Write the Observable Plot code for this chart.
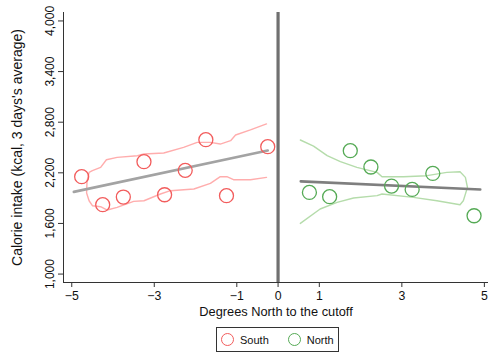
<!DOCTYPE html>
<html>
<head>
<meta charset="utf-8">
<script src="https://cdn.jsdelivr.net/npm/d3@7"></script>
<script src="https://cdn.jsdelivr.net/npm/@observablehq/plot@0.6"></script>
<style>
  body { margin: 0; background: #fff; font-family: "Liberation Sans", Arial, sans-serif; }
  #wrap { position: relative; width: 488px; height: 358px; }
  #legend { position: absolute; left: 216px; top: 327px; width: 121px; height: 23px; border: 1px solid #333;
    font-size: 11px; color: #111; display: flex; align-items: center; }
  .item { display: flex; align-items: center; }
  .sw { display: inline-block; width: 11px; height: 11px; border-radius: 50%; border: 1.3px solid; margin-right: 6px; }
</style>
</head>
<body>
<div id="wrap"><div id="chart"></div>
<div id="legend">
  <span class="item" style="margin-left:4px"><span class="sw" style="border-color:#f25c5c"></span>South</span>
  <span class="item" style="margin-left:19px"><span class="sw" style="border-color:#55aa55"></span>North</span>
</div></div>
<script>
// ---- data ----
const xTicks = [-5, -3, -1, 0, 1, 3, 5];
const yTicks = [1000, 1600, 2200, 2800, 3400, 4000];
const xDomain = [-5.2, 5.1];
const yDomain = [900, 4100];
const cutoff = [0];
const xLabel = "Degrees North to the cutoff";
const yLabel = "Calorie intake (kcal, 3 days's average)";

const southX = [-4.76, -4.25, -3.75, -3.25, -2.75, -2.25, -1.75, -1.25, -0.25];
const southY = [2154, 1822, 1913, 2332, 1940, 2229, 2593, 1929, 2510];
const northX = [0.76, 1.25, 1.75, 2.25, 2.75, 3.25, 3.75, 4.75];
const northY = [1968, 1917, 2462, 2269, 2043, 2003, 2193, 1691];

const southFitX = [-4.95, -0.25];
const southFitY = [1974, 2465];
const northFitX = [0.55, 4.9];
const northFitY = [2098, 2003];

// confidence band outlines (traced as one path)
const southBandX = [-0.28, -0.67, -1.08, -1.24, -1.40, -1.64, -2.04, -2.61, -2.85, -3.25, -3.50, -3.90, -4.14, -4.30, -4.50,
  -4.58, -4.64, -4.63, -4.58, -4.50, -4.30, -4.16, -3.90, -3.41, -3.25, -2.77, -2.29, -1.96, -1.64, -1.40, -1.15, -1.03, -0.67, -0.28];
const southBandY = [2146, 2118, 2118, 2154, 2154, 2074, 2008, 1988, 1949, 1869, 1861, 1790, 1759, 1798, 1810,
  1869, 1960, 2100, 2205, 2225, 2264, 2355, 2383, 2403, 2423, 2435, 2502, 2561, 2561, 2541, 2581, 2648, 2708, 2779];
const northBandX = [0.54, 0.86, 1.19, 1.51, 1.91, 2.40, 2.52, 3.04, 3.61, 4.09, 4.41, 4.54, 4.59,
  4.49, 4.41, 3.85, 3.28, 2.52, 2.40, 1.83, 1.43, 1.02, 0.54];
const northBandY = [2589, 2517, 2403, 2332, 2264, 2205, 2154, 2154, 2166, 2205, 2213, 2146, 2027,
  1869, 1822, 1869, 1909, 1949, 1929, 1901, 1849, 1771, 1600];

const zip = (xs, ys) => xs.map((x, i) => ({x, y: ys[i]}));
const south = zip(southX, southY), north = zip(northX, northY);
const southFit = zip(southFitX, southFitY), northFit = zip(northFitX, northFitY);
const southBand = zip(southBandX, southBandY), northBand = zip(northBandX, northBandY);
const fmt = d3.format(",");

const chart = Plot.plot({
  width: 488, height: 322,
  marginTop: 12, marginBottom: 40, marginLeft: 63, marginRight: 0,
  style: {fontFamily: "Liberation Sans, Arial, sans-serif", fontSize: "12px", color: "#111", background: "#fff"},
  x: {domain: xDomain, label: null},
  y: {domain: yDomain, label: null},
  marks: [
    Plot.line(southBand, {x: "x", y: "y", stroke: "#ffadad", strokeWidth: 1.4}),
    Plot.line(northBand, {x: "x", y: "y", stroke: "#b5dcab", strokeWidth: 1.4}),
    Plot.line(southFit, {x: "x", y: "y", stroke: "#a3a3a3", strokeWidth: 2.6}),
    Plot.line(northFit, {x: "x", y: "y", stroke: "#7f7f7f", strokeWidth: 2.6}),
    Plot.dot(south, {x: "x", y: "y", r: 7, stroke: "#f25c5c", strokeWidth: 1.3, fill: "none"}),
    Plot.dot(north, {x: "x", y: "y", r: 7, stroke: "#55aa55", strokeWidth: 1.3, fill: "none"}),
    Plot.ruleX(cutoff, {stroke: "#707070", strokeWidth: 3.2}),
    Plot.ruleX([xDomain[0]], {stroke: "#333", strokeWidth: 1}),
    Plot.ruleY([yDomain[0]], {stroke: "#333", strokeWidth: 1}),
    Plot.axisX({ticks: xTicks, tickSize: 5, tickPadding: 4, fontSize: 12.3, label: null, stroke: "#333"}),
    Plot.axisY({ticks: yTicks, tickSize: 5, tickFormat: () => "", label: null, stroke: "#333"}),
    Plot.text(yTicks, {y: d => d, text: d => fmt(d), frameAnchor: "left", textAnchor: "middle", rotate: -90, dx: -13, fontSize: 12, fill: "#111"}),
    Plot.text([xLabel], {text: d => d, frameAnchor: "bottom", dy: 33, fontSize: 12.8, fill: "#111"}),
    Plot.text([yLabel], {text: d => d, frameAnchor: "left", textAnchor: "middle", rotate: -90, dx: -45.5, fontSize: 14, fill: "#111"})
  ]
});
document.getElementById("chart").appendChild(chart);
</script>
</body>
</html>
